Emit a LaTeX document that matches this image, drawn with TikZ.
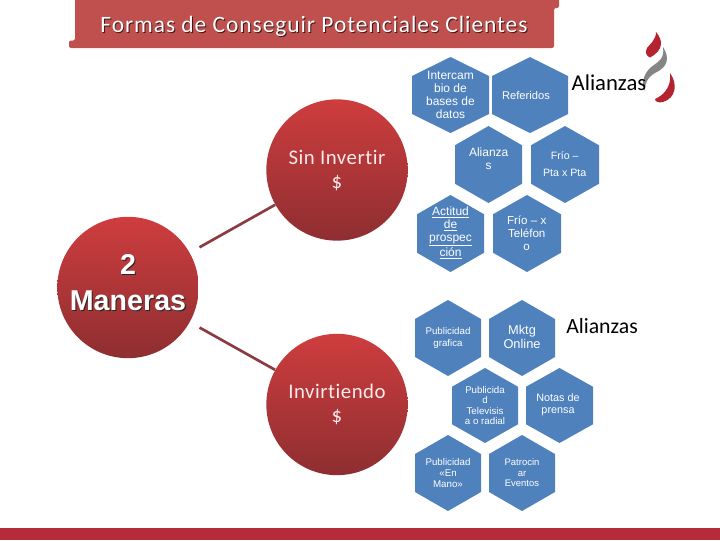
\documentclass[tikz,border=0pt]{standalone}
\usepackage{fontspec}
\setmainfont{Liberation Sans}
\newfontfamily\calib[LetterSpace=4.0,Ligatures=NoCommon]{Carlito}
\newfontfamily\calibmid[LetterSpace=2.5,Ligatures=NoCommon]{Carlito}
\newfontfamily\calibplain{Carlito}
\definecolor{hexblue}{HTML}{4F81BD}
\definecolor{titlered}{HTML}{C0504D}
\definecolor{linered}{HTML}{8C3B42}
\definecolor{circtop}{HTML}{CE3D3E}
\definecolor{circbot}{HTML}{8E2E31}
\definecolor{barred}{HTML}{B52B3A}
\definecolor{logored}{HTML}{B5232F}
\definecolor{logogray}{HTML}{858585}
\tikzset{
  circ/.style={circle,inner sep=0pt,minimum size=106pt,shade,top color=circtop,bottom color=circbot,shading angle=0},
  hextext/.style={text=white,align=center,inner sep=0pt},
  conn/.style={draw=linered,line width=2pt,shorten <=8.3pt},
  blacktext/.style={text=black,inner sep=0pt}
}
\newcommand{\hexa}[4]{\fill[hexblue] (#1,#2-#4) -- (#1+#3,#2-#4/2) -- (#1+#3,#2+#4/2) -- (#1,#2+#4) -- (#1-#3,#2+#4/2) -- (#1-#3,#2-#4/2) -- cycle;}
\newcommand{\dropt}[3]{\leavevmode\rlap{\hspace{#3}\raisebox{-#3}{\textcolor{#2}{#1}}}#1}
\begin{document}
\begin{tikzpicture}[x=0.75pt,y=-0.75pt]
\useasboundingbox (0,0) rectangle (720,540);
% bottom bar
\fill[barred] (0,528) rectangle (720,540);
% title banner
\fill[titlered,rounded corners=1.5pt] (75,-2) -- (559,-2) -- (559,8) -- (554,8) -- (554,48) -- (69,48) -- (69,40.5) -- (75,40.5) -- cycle;
\node (title) at (314,27) [text=white,inner sep=0pt,font=\calib\fontsize{17.6}{20}\selectfont] {\dropt{Formas de Conseguir Potenciales Clientes}{black!70!titlered}{0.7pt}};
% logo
\fill[logored] (656,32) .. controls (663,40) and (664,50) .. (650,57.5) .. controls (646,56) and (645,52) .. (647,48) .. controls (650,44) and (656,40) .. (656,32) -- cycle;
\fill[logogray] (663,47) .. controls (670,58) and (668,67) .. (655,73) .. controls (648,77) and (644,84) .. (645,91) .. controls (641,85) and (643,75) .. (650,68) .. controls (657,62) and (665,60) .. (663,47) -- cycle;
\fill[logored] (670,73) .. controls (678,84) and (676,98) .. (663,102) .. controls (659,103) and (655,102) .. (655,99) .. controls (662,96) and (672,88) .. (670,73) -- cycle;
% circles
\node[circ] (maneras) at (128,287.5) {};
\node[circ] (sin) at (337,170) {};
\node[circ] (inv) at (337,404.5) {};
\draw[conn] (maneras) -- (sin);
\draw[conn] (maneras) -- (inv);
\node (manerastxt) at (128,283) [text=white,align=center,inner sep=0pt,font=\bfseries\fontsize{21.5}{27.4}\selectfont] {\dropt{2}{black!85}{0.8pt}\\\dropt{Maneras}{black!85}{0.8pt}};
\node (sintxt) at (337,170.5) [text=white!92!red,align=center,inner sep=0pt,font=\calibmid\fontsize{15.6}{18}\selectfont] {Sin Invertir\\\$};
\node (invtxt) at (337,404.5) [text=white!92!red,align=center,inner sep=0pt,font=\calibmid\fontsize{15.6}{18}\selectfont] {Invirtiendo\\\$};
% hexagons
\hexa{450.5}{95}{38.5}{38}
\hexa{530}{95}{38}{38}
\hexa{488.5}{164.5}{33.5}{38.5}
\hexa{565}{164.5}{34}{38.5}
\hexa{450.5}{233.5}{33.5}{38.5}
\hexa{527}{233.5}{34}{38.5}
\hexa{448}{338}{33}{38}
\hexa{522}{338}{33}{38}
\hexa{485}{405.5}{33}{37.5}
\hexa{559.5}{405.5}{33.5}{37.5}
\hexa{448}{473}{33}{38}
\hexa{522}{473}{33}{38}
% hexagon labels
\node[hextext,font=\fontsize{9}{9.75}\selectfont] (h1) at (450.5,95) {Intercam\\bio de\\bases de\\datos};
\node[hextext,font=\fontsize{8.4}{10}\selectfont] (h2) at (526,95) {Referidos};
\node[hextext,font=\fontsize{9}{10}\selectfont] (h3) at (488.7,158.4) {Alianza\\s};
\node[hextext,font=\fontsize{8}{12.75}\selectfont] (h4) at (564.7,164.5) {Frío –\\Pta x Pta};
\node[hextext,font=\fontsize{9}{9.75}\selectfont] (h5) at (450.5,233) {\underline{Actitud}\\\underline{de}\\\underline{prospec}\\\underline{ción}};
\node[hextext,font=\fontsize{8.7}{9.75}\selectfont] (h6) at (526.7,233.7) {Frío – x\\Teléfon\\o};
\node[hextext,font=\fontsize{7.3}{8.5}\selectfont] (h7) at (448,338) {Publicidad\\grafica};
\node[hextext,font=\fontsize{9.6}{10.2}\selectfont] (h8) at (522,337) {Mktg\\Online};
\node[hextext,font=\fontsize{7.3}{7.9}\selectfont] (h9) at (485,405.5) {Publicida\\d\\Televisis\\a o radial};
\node[hextext,font=\fontsize{8.1}{8.8}\selectfont] (h10) at (558,405) {Notas de\\prensa};
\node[hextext,font=\fontsize{7.3}{7.9}\selectfont] (h11) at (448,473) {Publicidad\\«En\\Mano»};
\node[hextext,font=\fontsize{7.1}{7.9}\selectfont] (h12) at (522,473) {Patrocin\\ar\\Eventos};
% free labels
\node[blacktext,font=\calibplain\fontsize{17}{20}\selectfont] (al1) at (609,83) {Alianzas};
\node[blacktext,font=\calibplain\fontsize{16.3}{20}\selectfont] (al2) at (602,326) {Alianzas};
\end{tikzpicture}
\end{document}
